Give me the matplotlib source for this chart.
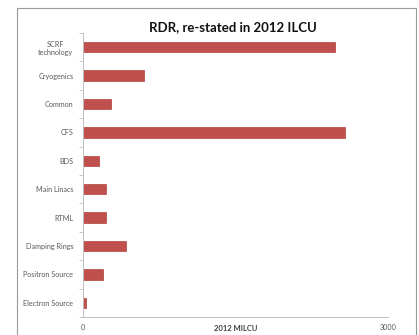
import matplotlib
matplotlib.use("Agg")
import matplotlib.pyplot as plt
from matplotlib.patches import Rectangle
import numpy as np

categories = ["SCRF\ntechnology", "Cryogenics", "Common", "CFS", "BDS",
              "Main Linacs", "RTML", "Damping Rings", "Positron Source",
              "Electron Source"]
values = [2476, 603, 275, 2574, 160, 223, 229, 423, 200, 30]
x_ticks = [0, 3000]
title = "RDR, re-stated in 2012 ILCU"
xlabel = "2012 MILCU"

plt.rcParams['font.family'] = ['Lato', 'DejaVu Sans']

fig = plt.figure(figsize=(4.19, 3.35), dpi=100)
fig.patch.set_facecolor("white")
ax = fig.add_axes([83/419, 18/335, 305/419, 284/335])

n = len(categories)
ypos = np.arange(n)
ax.barh(ypos, values, height=0.36, color="#C0504D", edgecolor="#B0403D", linewidth=0.5)
ax.set_ylim(n - 0.5, -0.5)
ax.set_xlim(0, 3000)

ax.set_yticks(ypos)
ax.set_yticklabels(categories, fontsize=5.2, color="#595959", multialignment="center")
ax.set_yticks(np.arange(-0.5, n, 1.0), minor=True)
ax.tick_params(axis="y", which="major", length=0, pad=7)
ax.tick_params(axis="y", which="minor", length=3, color="#BFBFBF", width=0.6)

ax.set_xticks(x_ticks)
ax.set_xticklabels([str(v) for v in x_ticks], fontsize=5.2, color="#595959")
ax.tick_params(axis="x", length=0, pad=5)
ax.set_xlabel(xlabel, fontsize=5.5, fontweight="bold", color="#404040", labelpad=-4)

for s in ["top", "right"]:
    ax.spines[s].set_visible(False)
for s in ["left", "bottom"]:
    ax.spines[s].set_color("#BFBFBF")
    ax.spines[s].set_linewidth(0.7)
ax.axvline(3000, color="#D0D0D0", linewidth=0.7)

fig.text(233/419, 1 - 27/335, title, ha="center", va="center",
         fontsize=9.5, fontweight="bold", color="#111111")

fig.add_artist(Rectangle((17/419, -0.02), 399/419, 1 - 8/335 + 0.02,
                         transform=fig.transFigure, fill=False,
                         edgecolor="#9A9A9A", linewidth=0.8))

fig.savefig("out.png", dpi=100, facecolor="white")
